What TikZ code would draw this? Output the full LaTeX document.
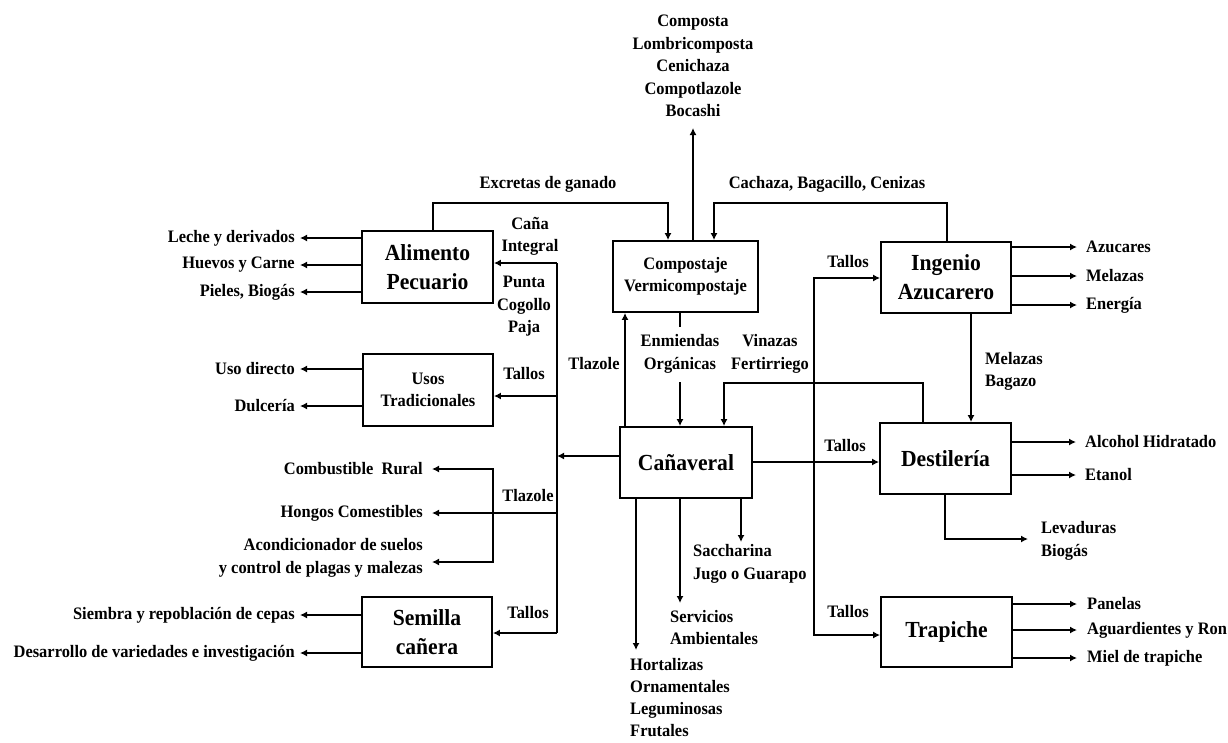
\documentclass[tikz,border=0pt]{standalone}
\usepackage{fontspec}
\setmainfont{Liberation Serif}[FakeStretch=0.94]
\usetikzlibrary{arrows.meta}

\tikzset{
  flow/.style={line width=1.8pt, -{Latex[length=7pt,width=7pt]}},
  wire/.style={line width=1.8pt},
  txt/.style={inner sep=0pt, font=\bfseries\fontsize{17.5}{22.5}\selectfont},
  proc/.style={draw, line width=1.8pt, inner sep=0pt, align=center,
               font=\bfseries\fontsize{17.5}{22.5}\selectfont},
  bigproc/.style={proc, font=\bfseries\fontsize{23}{29}\selectfont},
}

\begin{document}
\begin{tikzpicture}[x=1pt,y=-1pt]
\useasboundingbox (0,0) rectangle (1228,742);

% ---- process boxes ----
\node[bigproc, minimum width=131, minimum height=72] (alim) at (427.5,267) {Alimento\\Pecuario};
\node[proc,    minimum width=130, minimum height=72] (usos) at (428,390)   {Usos\\Tradicionales};
\node[bigproc, minimum width=130, minimum height=70] (sem)  at (427,632)   {Semilla\\cañera};
\node[proc,    minimum width=145, minimum height=71] (comp) at (685.5,276.5) {Compostaje\\Vermicompostaje};
\node[bigproc, minimum width=130, minimum height=71] (ing)  at (946,277.5) {Ingenio\\Azucarero};
\node[bigproc, minimum width=132, minimum height=71] (can)  at (686,462.5) {Cañaveral};
\node[bigproc, minimum width=131, minimum height=71] (dest) at (945.5,458.5) {Destilería};
\node[bigproc, minimum width=131, minimum height=70] (trap) at (946.5,632) {Trapiche};

% ---- compost products on top ----
\node[txt, align=center] (abonos) at (693,66) {Composta\\Lombricomposta\\Cenichaza\\Compotlazole\\Bocashi};
\coordinate (abonosTip) at (693,128);
\draw[flow] (693,0 |- comp.north) -- (abonosTip);

% ---- residues feeding the compost ----
\node[txt] (excretas) at (548,184) {Excretas de ganado};
\draw[flow] (433,0 |- alim.north) |- (668,203) -- (668,0 |- comp.north);
\node[txt] (cachaza) at (827,184) {Cachaza, Bagacillo, Cenizas};
\draw[flow] (947,0 |- ing.north) |- (714,203) -- (714,0 |- comp.north);

% ---- livestock feed outputs ----
\node[txt, anchor=east] (leche)  at (295,238) {Leche y derivados};
\node[txt, anchor=east] (huevos) at (295,265) {Huevos y Carne};
\node[txt, anchor=east] (pieles) at (295,292) {Pieles, Biogás};
\foreach \n in {leche,huevos,pieles}
  \draw[flow] (alim.west |- \n) -- ([xshift=5pt]\n.east);

% ---- traditional uses ----
\node[txt, anchor=east] (uso)   at (295,369) {Uso directo};
\node[txt, anchor=east] (dulce) at (295,406) {Dulcería};
\foreach \n in {uso,dulce}
  \draw[flow] (usos.west |- \n) -- ([xshift=5pt]\n.east);

% ---- seed cane ----
\node[txt, anchor=east] (siembra) at (295,615) {Siembra y repoblación de cepas};
\node[txt, anchor=east] (desarr)  at (295,653) {Desarrollo de variedades e investigación};
\foreach \n in {siembra,desarr}
  \draw[flow] (sem.west |- \n) -- ([xshift=5pt]\n.east);

% ---- left distribution bus ----
\coordinate (busTop) at (557,263);
\coordinate (busBot) at (557,633);
\draw[wire] (busTop) -- (busBot);
\draw[flow] (busTop) -- (alim.east |- busTop);
\draw[flow] (557,396) -- (usos.east |- 557,396);
\draw[flow] (busBot) -- (sem.east |- busBot);
\draw[flow] (can.west |- 0,456) -- (557,456);

\node[txt, align=center] (lbCana)  at (530,236.5) {Caña\\Integral};
\node[txt, align=center] (lbPunta) at (524,306.5) {Punta\\Cogollo\\Paja};
\node[txt] (lbTallosU) at (524,374) {Tallos};
\node[txt] (lbTlazL)   at (528,496) {Tlazole};
\node[txt] (lbTallosS) at (528,613) {Tallos};

% ---- tlazole uses ----
\node[txt, anchor=east] (combus) at (423,469) {Combustible\ \ Rural};
\node[txt, anchor=east] (hongos) at (423,513) {Hongos Comestibles};
\node[txt, anchor=east, align=right] (acond) at (423,558) {Acondicionador de suelos\\y control de plagas y malezas};
\coordinate (acondTip) at (432,562);
\draw[flow] (557,513) -- ([xshift=9pt]hongos.east);
\draw[flow] (493,513) |- ([xshift=9pt]combus.east);
\draw[flow] (493,513) |- (acondTip);

% ---- flows between compost and cane field ----
\draw[flow] (625,0 |- can.north) -- (625,0 |- comp.south);
\node[txt] (lbTlazC) at (594,364) {Tlazole};
\draw[wire] (680,0 |- comp.south) -- (680,327);
\node[txt, align=center] (lbEnm) at (680,354) {Enmiendas\\Orgánicas};
\draw[flow] (680,382) -- (680,0 |- can.north);
\node[txt, align=center] (lbVin) at (770,354) {Vinazas\\Fertirriego};
\draw[flow] (923,0 |- dest.north) |- (724,383) -- (724,0 |- can.north);

% ---- stalks to the mills ----
\coordinate (tj) at (814,462);
\draw[flow] (can.east |- 0,462) -- (dest.west |- 0,462);
\draw[flow] (tj) |- (ing.west |- 814,278);
\draw[flow] (tj) |- (trap.west |- 814,635);
\node[txt] (lbTallosI) at (848,262) {Tallos};
\node[txt] (lbTallosD) at (845,446) {Tallos};
\node[txt] (lbTallosT) at (848,612) {Tallos};

% ---- sugar mill ----
\node[txt, anchor=west] (azuc)  at (1086,247) {Azucares};
\node[txt, anchor=west] (melaz) at (1086,276) {Melazas};
\node[txt, anchor=west] (energ) at (1086,305) {Energía};
\foreach \n in {azuc,melaz,energ}
  \draw[flow] (ing.east |- \n) -- ([xshift=-9pt]\n.west);
\draw[flow] (971,0 |- ing.south) -- (971,0 |- dest.north);
\node[txt, anchor=west, align=left] (lbMel) at (985,371.5) {Melazas\\Bagazo};

% ---- distillery ----
\node[txt, anchor=west] (alcoh) at (1085,442) {Alcohol Hidratado};
\node[txt, anchor=west] (etan)  at (1085,475) {Etanol};
\foreach \n in {alcoh,etan}
  \draw[flow] (dest.east |- \n) -- ([xshift=-9pt]\n.west);
\node[txt, anchor=west, align=left] (levad) at (1041,541) {Levaduras\\Biogás};
\coordinate (levadTip) at (1028,539);
\draw[flow] (945,0 |- dest.south) |- (levadTip);

% ---- trapiche ----
\node[txt, anchor=west] (panel) at (1087,604) {Panelas};
\node[txt, anchor=west] (aguar) at (1087,630) {Aguardientes y Ron};
\node[txt, anchor=west] (miel)  at (1087,658) {Miel de trapiche};
\foreach \n in {panel,aguar,miel}
  \draw[flow] (trap.east |- \n) -- ([xshift=-10pt]\n.west);

% ---- direct products of the cane field ----
\node[txt, anchor=west, align=left] (sacch) at (693,564) {Saccharina\\Jugo o Guarapo};
\node[txt, anchor=west, align=left] (serv)  at (670,627.5) {Servicios\\Ambientales};
\node[txt, anchor=west, align=left, font=\bfseries\fontsize{17.5}{22}\selectfont] (hort) at (630,697.5) {Hortalizas\\Ornamentales\\Leguminosas\\Frutales};
\coordinate (sacchTip) at (741,542);
\coordinate (servTip)  at (680,603);
\coordinate (hortTip)  at (636,650);
\draw[flow] (741,0 |- can.south) -- (sacchTip);
\draw[flow] (680,0 |- can.south) -- (servTip);
\draw[flow] (636,0 |- can.south) -- (hortTip);
\end{tikzpicture}
\end{document}
